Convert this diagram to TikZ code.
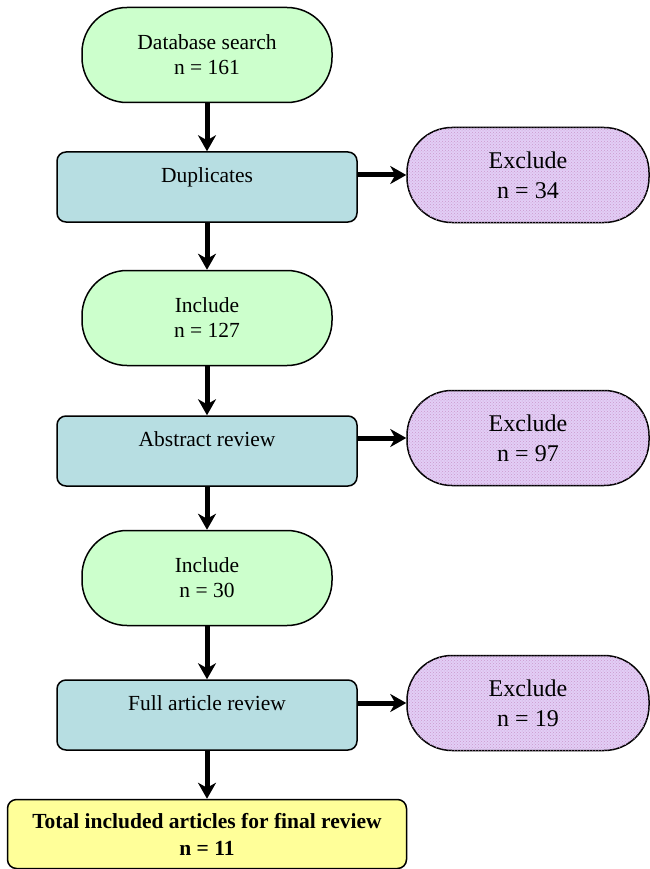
\documentclass[tikz,border=0pt]{standalone}
\usepackage{fontspec}
\setmainfont{Liberation Serif}
\usetikzlibrary{arrows.meta,patterns}

\definecolor{IncludeGreen}{HTML}{CCFFCC}
\definecolor{ReviewBlue}{HTML}{B7DEE2}
\definecolor{ExcludeLilac}{HTML}{E2CEF6}
\definecolor{FinalYellow}{HTML}{FFFF99}

\begin{document}
\begin{tikzpicture}
[
x=1pt, y=-1pt,
IncludeBox/.style={rectangle, rounded corners=45pt, draw=black, fill=IncludeGreen, line width=1.5pt, minimum width=250pt, minimum height=95pt, align=center, font=\fontsize{21.5}{25}\selectfont},
ReviewBox/.style={rectangle, rounded corners=9pt, draw=black, fill=ReviewBlue, line width=1.5pt, minimum width=300pt, minimum height=70pt, align=center, font=\fontsize{21.5}{24}\selectfont},
ExcludeBox/.style={rectangle, rounded corners=45pt, draw=black, fill=ExcludeLilac, line width=1.5pt, minimum width=242pt, minimum height=95pt, align=center, font=\fontsize{24}{30}\selectfont, postaction={pattern=crosshatch dots, pattern color=violet!40}},
FinalBox/.style={rectangle, rounded corners=9pt, draw=black, fill=FinalYellow, line width=1.5pt, minimum width=399pt, minimum height=69pt, align=center, font=\fontsize{21.5}{27}\selectfont\bfseries},
FlowArrow/.style={-{Stealth[length=16pt,width=18pt,inset=5pt]}, line width=5pt, draw=black},
]

\useasboundingbox (0,0) rectangle (649,869);

% main column
\node[IncludeBox] (search)   at (207, 55) {Database search\\n = 161};
\node[ReviewBox]  (dup)      at (207,187) {Duplicates\\\phantom{D}};
\node[IncludeBox] (incA)     at (207,318) {Include\\n = 127};
\node[ReviewBox]  (abstract) at (207,451) {Abstract review\\\phantom{A}};
\node[IncludeBox] (incB)     at (207,578) {Include\\n = 30};
\node[ReviewBox]  (full)     at (207,715) {Full article review\\\phantom{F}};
\node[FinalBox]   (total)    at (207,834) {Total included articles for final review\\n = 11};

% excluded
\node[ExcludeBox] (exA) at (528,175) {Exclude\\n = 34};
\node[ExcludeBox] (exB) at (528,438) {Exclude\\n = 97};
\node[ExcludeBox] (exC) at (528,703) {Exclude\\n = 19};

\draw[FlowArrow] (search) -- (dup);
\draw[FlowArrow] (dup) -- (incA);
\draw[FlowArrow] (incA) -- (abstract);
\draw[FlowArrow] (abstract) -- (incB);
\draw[FlowArrow] (incB) -- (full);
\draw[FlowArrow] (full) -- (total);

\draw[FlowArrow] (dup.east |- exA) -- (exA);
\draw[FlowArrow] (abstract.east |- exB) -- (exB);
\draw[FlowArrow] (full.east |- exC) -- (exC);

\end{tikzpicture}
\end{document}
